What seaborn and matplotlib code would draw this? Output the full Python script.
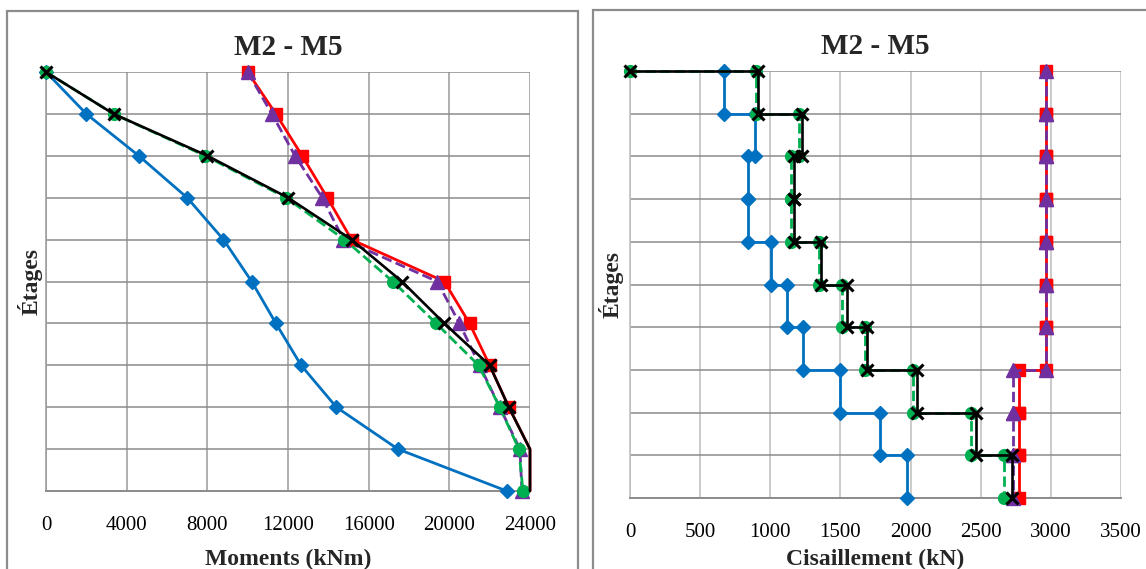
import matplotlib
matplotlib.use("Agg")
import matplotlib.pyplot as plt
import pandas as pd
import seaborn as sns
from matplotlib.patches import Rectangle

# ---------------------------------------------------------------- data
# Storey levels, from the roof (10) down to the base (0)
levels = [10, 9, 8, 7, 6, 5, 4, 3, 2, 1, 0]

# Bending moments (kNm) at each level, roof first
moment_blue = [0, 2000, 4600, 7000, 8800, 10200, 11400, 12650, 14400, 17450, 22850]
moment_red = [10000, 11400, 12700, 13950, 15150, 19750, 21000, 22000, 22950, 24000, 24000]
moment_purple = [10000, 11200, 12350, 13700, 14750, 19400, 20500, 21500, 22500, 23500, 23600]
moment_green = [0, 3350, 7900, 11900, 14800, 17200, 19350, 21450, 22500, 23450, 23650]
moment_black = [0, 3350, 8000, 12000, 15150, 17650, 19750, 22000, 22950, 24000, 24000]

# Storey shears (kN), storey 10 (top) down to storey 1
stories = [10, 9, 8, 7, 6, 5, 4, 3, 2, 1]
shear_blue = [670, 892, 842, 842, 1006, 1120, 1234, 1495, 1785, 1976]
shear_red = [2967, 2967, 2967, 2967, 2967, 2967, 2967, 2775, 2775, 2775]
shear_purple = [2967, 2967, 2967, 2967, 2967, 2967, 2967, 2732, 2732, 2732]
shear_green = [900, 1205, 1145, 1145, 1345, 1512, 1675, 2015, 2430, 2668]
shear_black = [915, 1224, 1170, 1170, 1365, 1548, 1692, 2047, 2468, 2725]
# series whose shear diagram starts from zero at roof level
roof_zero = {"blue": False, "red": False, "purple": False, "green": True, "black": True}

moment_ticks = [0, 4000, 8000, 12000, 16000, 20000, 24000]
shear_ticks = [0, 500, 1000, 1500, 2000, 2500, 3000, 3500]
title = "M2 - M5"

# ---------------------------------------------------------------- styles
styles = {
    "blue": dict(color="#0070C0", marker="D", ms=7, ls="-", lw=2.0, z=4),
    "red": dict(color="#FF0000", marker="s", ms=9, ls="-", lw=2.0, z=5),
    "purple": dict(color="#7030A0", marker="^", ms=9.5, ls="--", lw=2.0, z=6),
    "green": dict(color="#00B050", marker="o", ms=8.5, ls="--", lw=2.0, z=7),
    "black": dict(color="#000000", marker="x", ms=8.5, ls="-", lw=1.9, z=8),
}

moments = {"blue": moment_blue, "red": moment_red, "purple": moment_purple,
           "green": moment_green, "black": moment_black}
shears = {"blue": shear_blue, "red": shear_red, "purple": shear_purple,
          "green": shear_green, "black": shear_black}


def step_profile(values, start_zero):
    """Constant shear over each storey: two points per storey."""
    xs, ys = [], []
    if start_zero:
        xs.append(0)
        ys.append(stories[0])
    for st, v in zip(stories, values):
        xs += [v, v]
        ys += [st, st - 1]
    return pd.DataFrame({"x": xs, "y": ys})


sns.set_theme(style="white")
plt.rcParams["font.family"] = ["Liberation Serif", "DejaVu Serif"]

W, H = 1146, 569
fig = plt.figure(figsize=(W / 100, H / 100), dpi=100)
fig.patch.set_facecolor("white")


def fx(px):
    return px / W


def fy(py):
    return 1 - py / H


# chart-area frames
fig.patches.append(Rectangle((fx(7), fy(580)), fx(578) - fx(7), fy(11) - fy(580),
                             transform=fig.transFigure, fill=False,
                             edgecolor="#8c8c8c", lw=1.6, zorder=0))
fig.patches.append(Rectangle((fx(593), fy(580)), fx(1160) - fx(593), fy(10) - fy(580),
                             transform=fig.transFigure, fill=False,
                             edgecolor="#8c8c8c", lw=1.6, zorder=0))

ax1 = fig.add_axes([fx(46), fy(491), fx(530) - fx(46), fy(72) - fy(491)])
ax2 = fig.add_axes([fx(630), fy(498), fx(1121) - fx(630), fy(71) - fy(498)])


def draw(ax, df, key, xmax):
    st = styles[key]
    # markers of points lying on the outer bound of the axis are not shown
    shown = [i for i, v in enumerate(df["x"]) if v < xmax]
    sns.lineplot(data=df, x="x", y="y", sort=False, estimator=None, ax=ax,
                 color=st["color"], linestyle=st["ls"], linewidth=st["lw"],
                 marker=st["marker"], markersize=st["ms"], markevery=shown,
                 markeredgecolor=st["color"], markerfacecolor=st["color"],
                 markeredgewidth=2.2 if key == "black" else 1,
                 zorder=st["z"], legend=False, clip_on=False)


for key in ["blue", "red", "purple", "green", "black"]:
    draw(ax1, pd.DataFrame({"x": moments[key], "y": levels}), key, moment_ticks[-1])
    draw(ax2, step_profile(shears[key], roof_zero[key]), key, shear_ticks[-1])


def style_axes(ax, xticks, vgrid, xlab, ylab_x, xlab_y):
    ax.set_xlim(xticks[0], xticks[-1])
    ax.set_ylim(0, 10)
    ax.set_xticks(xticks)
    ax.set_xticklabels([str(t) for t in xticks])
    ax.set_yticks(levels)
    ax.tick_params(axis="y", labelleft=False, length=3, color="#8c8c8c", width=1)
    ax.tick_params(axis="x", length=5, color="#8c8c8c", width=1, pad=13,
                   labelsize=15, labelcolor="black")
    ax.grid(axis="y", color="#8c8c8c", lw=1.1)
    ax.grid(axis="x", color=vgrid, lw=1.1)
    ax.set_axisbelow(True)
    for side in ["top", "right"]:
        ax.spines[side].set_visible(False)
    ax.spines["left"].set_color(vgrid)
    ax.spines["left"].set_linewidth(1.1)
    ax.spines["bottom"].set_color("#8c8c8c")
    ax.spines["bottom"].set_linewidth(1.4)
    ax.set_facecolor("none")
    ax.set_title(title, fontsize=21, fontweight="bold", pad=12)
    ax.set_xlabel(xlab, fontsize=17, fontweight="bold")
    ax.set_ylabel("Étages", fontsize=17, fontweight="bold")
    ax.xaxis.label.set_va("center")
    ax.xaxis.set_label_coords(0.5, xlab_y)
    ax.yaxis.label.set_va("center")
    ax.yaxis.set_label_coords(ylab_x, 0.5)


style_axes(ax1, moment_ticks, "#9a9a9a", "Moments (kNm)",
           (30 - 46) / 484, (491 - 559) / 419)
style_axes(ax2, shear_ticks, "#bdbdbd", "Cisaillement (kN)",
           (611 - 630) / 491, (498 - 559) / 427)

fig.savefig("out.png", dpi=100, facecolor="white")
